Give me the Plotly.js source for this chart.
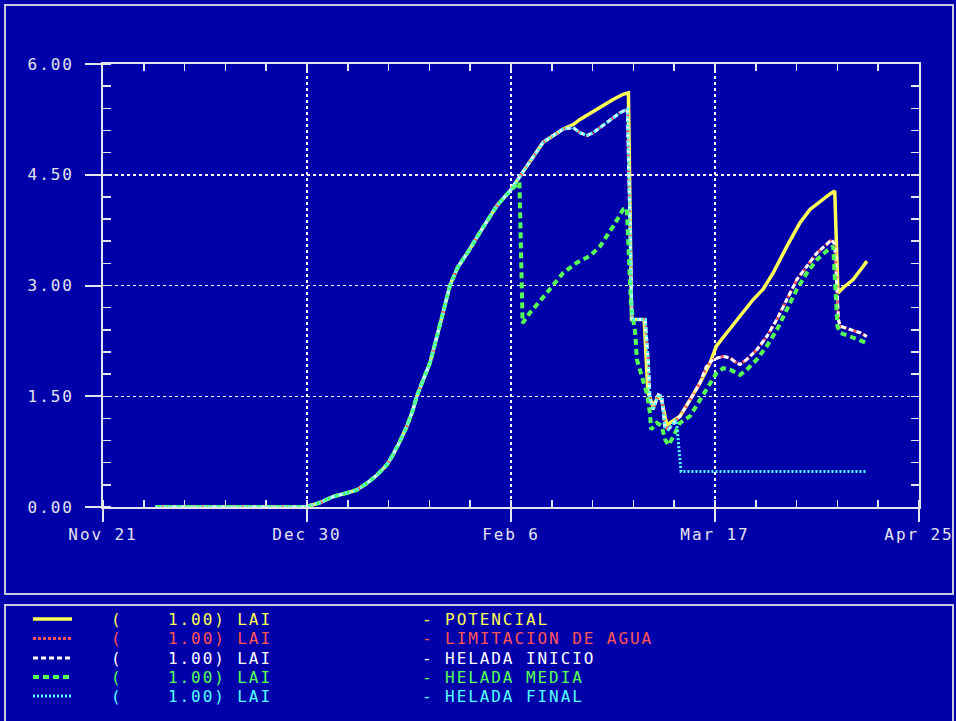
<!DOCTYPE html>
<html>
<head>
<meta charset="utf-8">
<script src="https://cdn.plot.ly/plotly-3.0.1.min.js"></script>
<style>
html,body{margin:0;padding:0;background:#0000aa;}
#chart{width:956px;height:721px;}
svg text{letter-spacing:0.12em;}
</style>
</head>
<body>
<div id="chart"></div>
<script>
// ---- axis: days since Nov 21 (season spans 155 days, 4 equal labelled intervals)
const tickDays = [0, 38.75, 77.5, 116.25, 155];
const tickLabels = ['Nov 21', 'Dec 30', 'Feb 6', 'Mar 17', 'Apr 25'];

// ---- common early growth (all series coincide)
const riseDays = [10, 38.5, 41.2, 43.7, 46.3, 48.2, 50.1, 52.0, 53.9, 55.1, 56.4, 57.7, 58.9, 59.6, 60.8, 62.1, 63.4, 64.8, 65.9, 67.4, 69.3, 71.6, 74.8, 77.3];
const riseLai  = [0, 0, 0.06, 0.14, 0.19, 0.23, 0.32, 0.43, 0.57, 0.71, 0.89, 1.09, 1.32, 1.50, 1.72, 1.95, 2.30, 2.70, 3.00, 3.25, 3.45, 3.72, 4.08, 4.28];

// ---- POTENCIAL
const potDaysTail = [79.2, 81.1, 83.6, 87.4, 89.3, 90.6, 93.8, 96.9, 98.8, 99.8, 100.4, 102.8, 103.5, 104.5, 105.4, 106.1, 107.1, 107.7, 109.6, 111.5, 113.4, 115.3, 116.5, 118.5, 121.0, 123.5, 125.4, 127.3, 129.9, 132.4, 134.3, 136.2, 138.1, 139.0, 139.6, 140.6, 142.5, 144.4, 145.1];
const potLaiTail  = [4.48, 4.67, 4.94, 5.12, 5.18, 5.25, 5.39, 5.52, 5.59, 5.61, 2.54, 2.54, 1.55, 1.36, 1.50, 1.45, 1.11, 1.14, 1.23, 1.45, 1.68, 1.95, 2.18, 2.36, 2.58, 2.81, 2.95, 3.17, 3.53, 3.85, 4.03, 4.14, 4.24, 4.28, 2.90, 2.97, 3.08, 3.26, 3.33];

// ---- HELADA INICIO / LIMITACION DE AGUA (overlapping)
const iniDaysTail = [79.2, 81.1, 83.6, 87.4, 89.3, 90.6, 91.9, 93.1, 95.7, 98.2, 99.6, 100.5, 103.0, 103.6, 103.9, 104.5, 105.5, 106.1, 106.7, 107.4, 108.9, 109.6, 111.5, 113.4, 114.6, 115.9, 117.8, 119.1, 120.4, 121.0, 122.3, 124.2, 126.1, 128.0, 129.9, 131.8, 133.7, 135.6, 137.5, 138.4, 139.0, 139.7, 140.0, 141.9, 143.8, 145.1];
const iniLaiTail  = [4.48, 4.67, 4.94, 5.12, 5.14, 5.07, 5.03, 5.07, 5.21, 5.34, 5.39, 2.54, 2.54, 1.95, 1.45, 1.32, 1.52, 1.50, 1.09, 1.05, 1.18, 1.23, 1.45, 1.68, 1.90, 2.00, 2.04, 2.02, 1.95, 1.93, 2.00, 2.13, 2.31, 2.54, 2.81, 3.08, 3.26, 3.44, 3.56, 3.62, 3.56, 2.54, 2.45, 2.40, 2.36, 2.31];
const limDaysTail = [79.2, 81.1, 83.6, 87.4, 89.3, 90.6, 91.9, 93.1, 95.7, 98.2, 99.6, 100.5, 103.0, 103.6, 103.9, 104.5, 105.5, 106.1, 106.7, 107.4, 108.9, 109.6, 111.5, 113.4, 114.6, 115.9, 117.8, 119.1, 120.4, 121.0, 122.3, 124.2, 126.1, 128.0, 129.9, 131.8, 133.7, 135.6, 137.5, 138.4, 139.0, 139.7, 140.0, 141.9, 143.8, 145.1];
const limLaiTail  = [4.48, 4.67, 4.94, 5.12, 5.14, 5.07, 5.03, 5.07, 5.21, 5.34, 5.39, 2.54, 2.54, 1.95, 1.45, 1.32, 1.52, 1.50, 1.09, 1.05, 1.18, 1.23, 1.45, 1.68, 1.90, 2.00, 2.04, 2.02, 1.95, 1.93, 2.00, 2.13, 2.31, 2.54, 2.81, 3.08, 3.26, 3.44, 3.56, 3.62, 3.56, 2.54, 2.45, 2.40, 2.36, 2.31];

// ---- HELADA MEDIA
const medDaysTail = [79.1, 79.7, 81.1, 84.3, 87.4, 90.0, 92.5, 94.4, 96.9, 98.8, 99.5, 100.3, 100.7, 101.1, 101.4, 102.0, 103.3, 103.9, 104.1, 105.2, 106.1, 106.8, 107.4, 108.0, 109.6, 111.5, 113.4, 115.3, 116.5, 117.8, 119.1, 121.0, 122.3, 124.2, 126.1, 128.0, 129.9, 131.8, 133.7, 135.6, 137.5, 138.7, 139.5, 140.0, 141.9, 143.2, 145.1];
const medLaiTail  = [4.40, 2.49, 2.63, 2.90, 3.17, 3.31, 3.40, 3.53, 3.80, 4.03, 4.05, 2.72, 2.54, 2.36, 2.00, 1.86, 1.54, 1.27, 1.05, 1.14, 1.10, 0.91, 0.84, 0.91, 1.14, 1.23, 1.45, 1.68, 1.81, 1.88, 1.86, 1.79, 1.86, 2.00, 2.18, 2.40, 2.67, 2.95, 3.17, 3.35, 3.47, 3.53, 2.45, 2.36, 2.31, 2.27, 2.22];

// ---- HELADA FINAL
const finDaysTail = [79.2, 81.1, 83.6, 87.4, 89.3, 90.6, 91.9, 93.1, 95.7, 98.2, 99.6, 100.5, 103.0, 103.6, 103.9, 104.5, 105.5, 106.1, 106.7, 107.4, 108.9, 109.8, 144.9];
const finLaiTail  = [4.48, 4.67, 4.94, 5.12, 5.14, 5.07, 5.03, 5.07, 5.21, 5.34, 5.39, 2.54, 2.54, 1.95, 1.45, 1.32, 1.52, 1.50, 1.09, 1.05, 1.18, 0.48, 0.48];

// ---- legend texts
const seriesNames = ['POTENCIAL', 'LIMITACION DE AGUA', 'HELADA INICIO', 'HELADA MEDIA', 'HELADA FINAL'];
const seriesScale = ['1.00) LAI', '1.00) LAI', '1.00) LAI', '1.00) LAI', '1.00) LAI'];

const colors = ['#ffff55', '#ff5555', '#ffffff', '#55ff55', '#55ffff'];
const dashes = ['solid', '3px,2px', '5px,3px', '6px,4px', '2px,2px'];
const widths = [3.5, 3, 3, 4, 3];

const xs = [riseDays.concat(potDaysTail), riseDays.concat(limDaysTail), riseDays.concat(iniDaysTail), riseDays.concat(medDaysTail), riseDays.concat(finDaysTail)];
const ys = [riseLai.concat(potLaiTail), riseLai.concat(limLaiTail), riseLai.concat(iniLaiTail), riseLai.concat(medLaiTail), riseLai.concat(finLaiTail)];

const traces = seriesNames.map((n, i) => ({
  type: 'scatter', mode: 'lines', name: n,
  x: xs[i], y: ys[i],
  line: {color: colors[i], width: widths[i], dash: dashes[i], shape: 'linear'},
  hoverinfo: 'skip'
}));
// empty trace that only registers the mirrored (top/right) tick axes
traces.push({type: 'scatter', mode: 'lines', x: [], y: [], xaxis: 'x2', yaxis: 'y2', showlegend: false, hoverinfo: 'skip'});

// plot area in pixels
const L = 103, R = 919, T = 64, B = 507, W = 956, H = 721;
const px = v => (v - L) / (R - L);
const py = v => (B - v) / (B - T);

const fg = '#e4e4ec';
const fontMono = 'DejaVu Sans Mono';
const fsize = 16;

const shapes = [
  {type: 'rect', xref: 'paper', yref: 'paper', x0: px(5), x1: px(953), y0: py(5), y1: py(594), line: {color: '#c8c8e0', width: 2}},
  {type: 'rect', xref: 'paper', yref: 'paper', x0: px(5), x1: px(953), y0: py(605), y1: py(722), line: {color: '#c8c8e0', width: 2}}
];
const annotations = [];
const rowsY = [619, 638.5, 658, 677, 696];
for (let i = 0; i < 5; i++) {
  shapes.push({type: 'line', xref: 'paper', yref: 'paper', x0: px(33), x1: px(72), y0: py(rowsY[i]), y1: py(rowsY[i]),
    line: {color: colors[i], width: widths[i], dash: dashes[i]}});
  const f = {family: fontMono, size: fsize, color: colors[i]};
  const common = {xref: 'paper', yref: 'paper', y: py(rowsY[i]), showarrow: false, xanchor: 'left', yanchor: 'middle', borderpad: 0, font: f};
  annotations.push(Object.assign({x: px(110), text: '('}, common));
  annotations.push(Object.assign({x: px(167), text: seriesScale[i]}, common));
  annotations.push(Object.assign({x: px(421), text: '- ' + seriesNames[i]}, common));
}

const layout = {
  width: W, height: H, autosize: false,
  paper_bgcolor: '#0000aa', plot_bgcolor: '#0000aa',
  margin: {l: L, r: W - R, t: T, b: H - B, pad: 0},
  showlegend: false,
  font: {family: fontMono, color: fg, size: fsize},
  xaxis: {
    range: [0, 155], tickmode: 'array', tickvals: tickDays, ticktext: tickLabels,
    ticks: 'outside', ticklen: 13, tickwidth: 2, tickcolor: fg,
    showline: true, linecolor: fg, linewidth: 2, mirror: true,
    showgrid: true, gridcolor: '#ffffff', griddash: 'dot', gridwidth: 1.5,
    zeroline: false, ticklabelstandoff: -1,
    tickfont: {family: fontMono, size: fsize, color: fg},
    minor: {tickmode: 'linear', tick0: 0, dtick: 7.75, ticks: 'inside', ticklen: 7, tickwidth: 1.5, tickcolor: fg, showgrid: false}
  },
  yaxis: {
    range: [0, 6], tickmode: 'linear', tick0: 0, dtick: 1.5, tickformat: '.2f',
    ticks: 'outside', ticklen: 16, tickwidth: 2, tickcolor: fg,
    showline: true, linecolor: fg, linewidth: 2, mirror: true,
    showgrid: true, gridcolor: '#ffffff', griddash: 'dot', gridwidth: 1.5,
    zeroline: false, ticklabelstandoff: 8,
    tickfont: {family: fontMono, size: fsize, color: fg},
    minor: {tickmode: 'linear', tick0: 0, dtick: 0.3, ticks: 'inside', ticklen: 8, tickwidth: 1.5, tickcolor: fg, showgrid: false}
  },
  xaxis2: {
    overlaying: 'x', anchor: 'y2', side: 'top', range: [0, 155], tickmode: 'linear', tick0: 0, dtick: 7.75,
    ticks: 'inside', ticklen: 7, tickwidth: 1.5, tickcolor: fg, showticklabels: false, showgrid: false, zeroline: false, showline: false
  },
  yaxis2: {
    overlaying: 'y', anchor: 'x2', side: 'right', range: [0, 6], tickmode: 'linear', tick0: 0, dtick: 0.3,
    ticks: 'inside', ticklen: 8, tickwidth: 1.5, tickcolor: fg, showticklabels: false, showgrid: false, zeroline: false, showline: false
  },
  shapes: shapes,
  annotations: annotations
};

Plotly.newPlot('chart', traces, layout, {staticPlot: true, displayModeBar: false});
</script>
</body>
</html>
